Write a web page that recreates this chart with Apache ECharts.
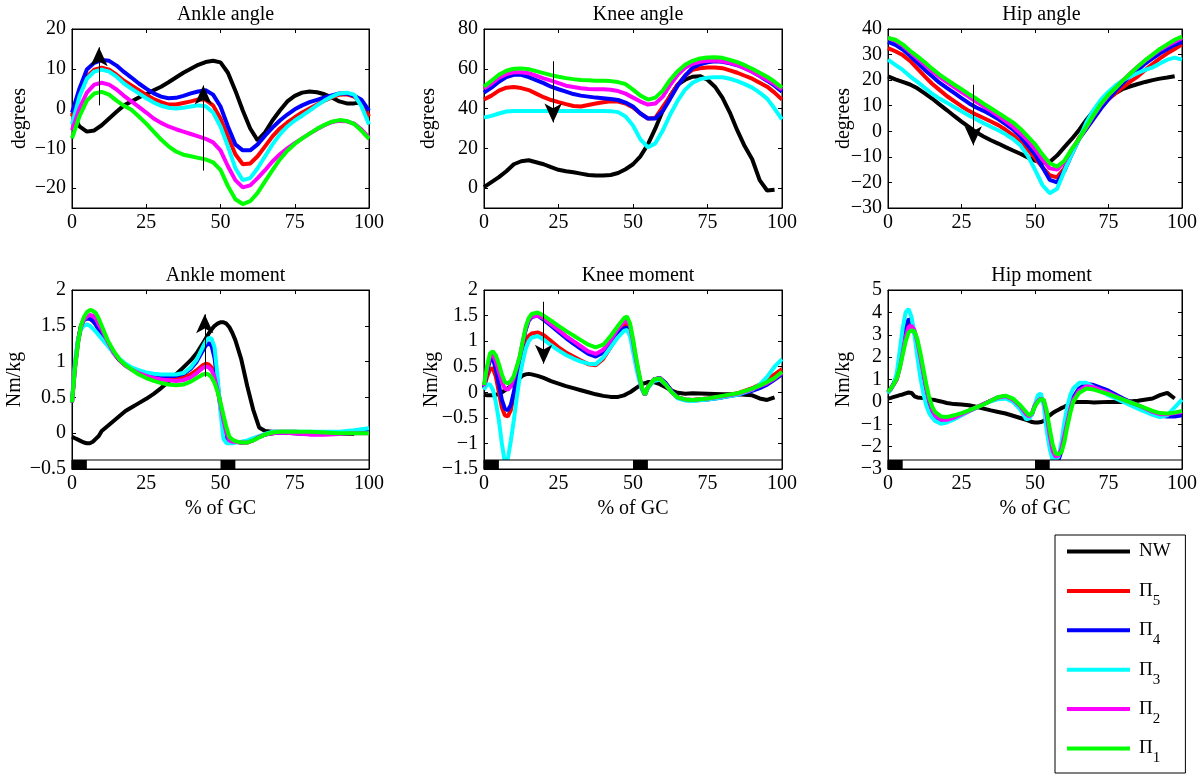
<!DOCTYPE html>
<html><head><meta charset="utf-8">
<script src="https://cdn.jsdelivr.net/npm/echarts@6/dist/echarts.min.js"></script>
<style>html,body{margin:0;padding:0;background:#fff}#c{width:1200px;height:776px}</style>
</head><body><div id="c"></div>
<script>
// ---------------- DATA ----------------
const seriesNames = ['NW', 'Π5', 'Π4', 'Π3', 'Π2', 'Π1'];
const xTicks = [0, 25, 50, 75, 100];

// gait-cycle sample points (% of GC)
const xAngle = [0,2.5,5,7.5,10,12.5,15,17.5,20,22.5,25,27.5,30,32.5,35,37.5,40,42.5,45,47.5,50,52.5,55,57.5,60,62.5,65,67.5,70,72.5,75,77.5,80,82.5,85,87.5,90,92.5,95,97.5,100];
const xAnkleMoment = [0,1,2,3,4,5,6,7,8,9,10,12,14,16,18,20,22.5,25,27.5,30,32.5,35,37.5,40,42,44,45,46,47,48,49,50,51,52,53,54,55,57,59,61,63,65,67.5,70,75,80,85,90,95,100];
const xKneeMoment = [0,1,2,3,4,5,6,7,8,9,10,11,12,13,14,15,16,18,20,22.5,25,27.5,30,32.5,35,37.5,40,42.5,45,47,48,49,50,51,52,53,54,55,57,59,61,63,65,67.5,70,75,80,85,90,92.5,95,97.5,100];
const xHipMoment = [0,1,2,3,4,5,6,7,8,9,10,11,12,13,14,15,16,18,20,22.5,25,27.5,30,32.5,35,37.5,40,42.5,45,47,48,49,50,51,52,53,54,55,56,57,58,59,60,61,62,63,65,67.5,70,75,80,85,90,92.5,95,97.5,100];

// Ankle angle (degrees)
const ankleAngleNW = [-1,-4.5,-5.8,-5.5,-4.2,-2.5,-0.8,0.8,1.8,2.8,3.6,4.6,5.5,6.6,7.8,9,10,11,11.7,12,11.6,9,4.5,-0.5,-5,-8,-6,-3,-0.5,1.8,3.2,4,4.3,4.1,3.6,2.8,1.8,1.3,1.3,1.6,null];
const ankleAngleP5 = [-2,4,8,9.8,10.3,9.8,8.5,7,5.8,4.6,3.4,2.4,1.6,1,1,1.4,1.8,2.3,2.2,0.8,-2.5,-7,-11.5,-14,-13.8,-12,-9.5,-7,-5,-3.5,-2.2,-1,0,1,2,2.8,3.5,3.6,3,1.5,-2];
const ankleAngleP4 = [-1,5,9.8,11.5,12.2,12,10.8,9.2,7.8,6.3,5,3.8,3,2.6,2.7,3.2,3.8,4.3,4.6,3.5,0.5,-4.5,-9,-10.5,-10.5,-9,-6.8,-4.8,-3,-1.5,-0.2,0.8,1.6,2.2,2.8,3.3,3.8,3.8,3.2,2.2,-0.5];
const ankleAngleP3 = [-4,3,7.5,9.3,9.8,9.3,8,6.3,5,3.8,2.6,1.5,0.7,0.2,0,0.2,0.5,0.8,0.6,-1,-4.5,-9.5,-15,-18,-17.5,-15,-12,-9,-6.5,-4.5,-3,-1.8,-0.5,0.8,2,3,3.8,4,3.5,0.5,-4];
const ankleAngleP2 = [-5.5,0,4,6,6.5,6,4.8,3.2,1.8,0.4,-1,-2.5,-3.6,-4.5,-5.2,-5.8,-6.4,-7,-7.6,-8.5,-10.5,-14.5,-18,-19.8,-19.3,-17.5,-15.5,-13.3,-11.5,-10,-8.7,-7.5,-6.3,-5.2,-4.2,-3.4,-3.1,-3.2,-3.8,-5.3,-7.3];
const ankleAngleP1 = [-7.5,-2,2,3.8,4.2,3.5,2,0.7,-0.3,-2,-3.8,-5.8,-7.8,-9.5,-10.8,-11.6,-12,-12.4,-12.8,-13.5,-15.4,-19.5,-22.8,-24,-23.3,-21.2,-18.3,-15.5,-12.8,-10.6,-8.9,-7.5,-6.3,-5.1,-4.1,-3.3,-2.9,-3.1,-3.9,-5.6,-7.6];

// Knee angle (degrees)
const kneeAngleNW = [0.5,3,5.5,8.5,12,13.5,14,13,12,10.5,9.2,8.5,8,7.3,6.6,6.3,6.3,6.6,7.6,9.5,12,16,22,30,39,46.5,52,54.5,56,56.3,54.5,51,45.5,38,29,21,14.5,4,-1.2,-0.8,null];
const kneeAngleP5 = [44.5,46.5,49,50.5,50.8,50.3,49.3,47.5,45.7,44.3,43.2,42.2,41.3,41,41.8,42.5,43.2,43.7,43.5,42.5,40.5,37.5,35,35.3,40.8,46.3,52,56.5,59.5,60.3,60.6,60.6,60.3,59.2,58,56.5,55,53,51,48,44.5];
const kneeAngleP4 = [48,50.5,53.5,55.8,57,57,55.8,54.3,52.8,51,49.7,48.5,47.3,46.5,46,45.5,45.2,44.8,44.3,43,41,37.5,35,35,38.8,45,51.5,56.5,60.5,62.3,63.3,63.8,63.5,62.8,61.8,60.3,58.5,56.3,54,51.5,48.5];
const kneeAngleP3 = [35.5,36.3,37.5,38.5,38.8,38.8,38.8,38.8,38.8,38.8,38.8,38.8,38.8,38.8,38.8,38.8,38.8,38.7,38.2,36,31.5,24.5,20.5,22.5,29,37,44,49.5,53,54.8,55.5,55.8,55.7,55,53.8,52.3,50.5,48,45,40,34.5];
const kneeAngleP2 = [50,52.5,55.5,57.3,58.2,58.3,57.8,56.5,55.2,54,52.8,51.5,50.8,50.2,49.8,49.7,49.7,49.5,48.8,47.5,45.5,43.5,42,42.5,46,52,57,60.5,62.5,63.5,64,64.2,63.8,63,61.8,60.3,58.5,56.5,54.5,52.3,49.5];
const kneeAngleP1 = [51,54,57,59,60,60.2,59.8,58.8,57.8,56.8,56,55.3,54.8,54.4,54.2,54,54,53.8,53.3,52.3,49.5,46.5,44.5,45.5,49,54.5,58.8,62,64,65.2,65.7,65.8,65.5,64.5,63.3,61.8,60,58,56,53.5,50.5];

// Hip angle (degrees)
const hipAngleNW = [21.5,20.3,19.3,18.3,16.8,14.8,12.8,10.5,8.3,6,3.8,1.7,-0.4,-2,-3.5,-4.8,-6.2,-7.5,-8.8,-10.2,-11.5,-12.3,-12,-9.5,-6.2,-3,0.5,4.5,8,10.8,13,15,16.6,17.6,18.5,19.3,20,20.6,21,21.5,null];
const hipAngleP5 = [32.5,31.3,29.8,27.5,24.5,21.5,18.6,16.2,13.8,11.8,9.8,8,6.5,5.2,3.8,2.4,0.6,-1.5,-4,-7,-10.5,-14,-17.2,-18,-14.5,-8,-2.5,1.5,6.5,9.8,12.5,15,17.3,19.5,21.5,24,26.3,28.5,30.5,32.2,34];
const hipAngleP4 = [35,33.8,32,29.5,26.8,24,21.5,19,17,15,13,11,9.3,8,6.5,4.8,2.8,0.8,-2,-5.5,-9,-14,-19,-20,-15.5,-9,-3,1,5,9,12.5,16,19,21.7,24,26.5,28.5,30.5,32.2,33.8,35];
const hipAngleP3 = [28,26,24,21.5,19.3,17,14.7,12.8,11.2,9.5,7.8,6.2,4.7,3.2,1.8,0.4,-1.2,-3,-5.5,-9.5,-15,-21,-24.2,-22.5,-15.5,-9,-3,3.5,8.5,12.5,15.5,18,20,21.5,22.8,24,25,26.5,28,28.8,28];
const hipAngleP2 = [36.5,35.5,33.5,31,28.5,26,23.5,21.3,19.2,17.3,15.3,13.5,11.5,9.8,8,6,4,1.8,-0.8,-3.5,-7,-11,-14.5,-15,-12,-7,-3,1.5,6.2,10.5,14,17,20,22.7,25.3,27.6,29.8,31.8,33.5,35,36.5];
const hipAngleP1 = [36.5,35.8,34,31.5,29.3,27,24.5,22.2,20.2,18.3,16.5,14.5,12.8,10.8,9,7.2,5.3,3.5,1,-2,-5,-9,-12.5,-13.8,-11.5,-7,-3,1.8,6.5,10.8,14.3,17,20,22.7,25.3,27.8,30,32.2,34,35.8,37];

// Ankle moment (Nm/kg)
const ankleMomentNW = [-0.05,-0.07,-0.09,-0.11,-0.13,-0.14,-0.14,-0.12,-0.08,-0.04,0.03,0.1,0.17,0.24,0.31,0.36,0.42,0.48,0.55,0.63,0.72,0.82,0.92,1.02,1.12,1.25,1.32,1.39,1.45,1.5,1.53,1.55,1.55,1.53,1.48,1.4,1.3,1.03,0.66,0.33,0.08,0.03,0.02,0.02,0.02,0.01,-0.01,-0.01,-0.01,null];
const ankleMomentP5 = [0.43,0.95,1.3,1.5,1.6,1.62,1.6,1.57,1.52,1.45,1.38,1.25,1.12,1.02,0.95,0.9,0.85,0.8,0.78,0.77,0.76,0.76,0.78,0.82,0.88,0.95,0.97,0.96,0.92,0.82,0.62,0.4,0.15,-0.05,-0.13,-0.13,-0.12,-0.13,-0.13,-0.1,-0.05,-0.02,0,0.01,0,-0.01,-0.01,0,0.01,0.02];
const ankleMomentP4 = [0.43,0.92,1.28,1.5,1.58,1.6,1.6,1.57,1.52,1.45,1.38,1.25,1.12,1.02,0.95,0.9,0.86,0.83,0.81,0.8,0.8,0.8,0.83,0.9,1,1.15,1.22,1.26,1.22,1.05,0.7,0.35,0.08,-0.08,-0.12,-0.12,-0.12,-0.13,-0.12,-0.09,-0.05,-0.02,0,0.01,0,-0.01,-0.01,0,0.02,0.03];
const ankleMomentP3 = [0.45,1,1.3,1.45,1.5,1.52,1.5,1.46,1.42,1.37,1.32,1.22,1.12,1.04,0.97,0.92,0.88,0.85,0.83,0.82,0.82,0.82,0.84,0.92,1.03,1.2,1.28,1.33,1.32,1.2,0.8,0.3,-0.08,-0.14,-0.14,-0.14,-0.13,-0.12,-0.1,-0.07,-0.04,-0.01,0.02,0.02,0.02,0.02,0.02,0.02,0.04,0.07];
const ankleMomentP2 = [0.43,0.9,1.25,1.48,1.58,1.63,1.65,1.64,1.6,1.52,1.45,1.28,1.13,1.02,0.94,0.89,0.84,0.8,0.77,0.75,0.74,0.73,0.74,0.78,0.84,0.91,0.93,0.92,0.88,0.78,0.6,0.4,0.18,0,-0.1,-0.12,-0.12,-0.13,-0.13,-0.1,-0.05,-0.02,0,0.01,0,-0.02,-0.02,-0.01,0,0];
const ankleMomentP1 = [0.43,0.9,1.25,1.5,1.62,1.69,1.72,1.71,1.68,1.6,1.5,1.3,1.15,1.03,0.95,0.89,0.82,0.77,0.73,0.7,0.68,0.67,0.68,0.72,0.77,0.82,0.83,0.82,0.78,0.7,0.58,0.43,0.25,0.08,-0.05,-0.09,-0.11,-0.13,-0.13,-0.1,-0.06,-0.02,0.01,0.02,0.02,0.02,0.01,0,0,0];

// Knee moment (Nm/kg)
const kneeMomentNW = [-0.05,-0.06,-0.06,-0.06,-0.05,-0.03,0,0.04,0.08,0.12,0.17,0.22,0.28,0.33,0.35,0.36,0.35,0.32,0.28,0.22,0.17,0.12,0.08,0.04,0,-0.04,-0.07,-0.09,-0.09,-0.06,-0.03,0,0.04,0.08,0.12,0.16,0.18,0.2,0.2,0.16,0.1,0.03,-0.01,-0.03,-0.02,-0.03,-0.04,-0.04,-0.06,-0.12,-0.15,-0.1,null];
const kneeMomentP5 = [0.08,0.3,0.45,0.47,0.3,0,-0.3,-0.45,-0.47,-0.35,-0.05,0.25,0.55,0.8,1,1.1,1.15,1.17,1.12,1,0.88,0.78,0.7,0.62,0.55,0.53,0.65,0.88,1.15,1.3,1.33,1.2,0.92,0.6,0.32,0.07,-0.05,0.1,0.25,0.28,0.17,0.02,-0.1,-0.14,-0.15,-0.12,-0.08,-0.02,0.08,0.15,0.25,0.35,0.45];
const kneeMomentP4 = [0.1,0.4,0.62,0.65,0.45,0.15,-0.15,-0.32,-0.35,-0.25,0,0.3,0.6,0.95,1.22,1.4,1.47,1.5,1.42,1.3,1.18,1.06,0.95,0.85,0.75,0.7,0.78,0.95,1.15,1.25,1.26,1.15,0.9,0.6,0.32,0.07,-0.05,0.1,0.25,0.28,0.18,0.02,-0.1,-0.15,-0.16,-0.14,-0.1,-0.05,0.03,0.08,0.15,0.25,0.35];
const kneeMomentP3 = [0.05,0.15,0.15,0.05,-0.2,-0.55,-1,-1.38,-1.3,-0.95,-0.55,-0.1,0.3,0.6,0.85,1,1.07,1.1,1.03,0.92,0.82,0.73,0.66,0.6,0.56,0.55,0.68,0.88,1.08,1.2,1.22,1.1,0.8,0.5,0.25,0.05,-0.05,0.08,0.22,0.25,0.15,0,-0.12,-0.16,-0.17,-0.14,-0.1,-0.05,0.05,0.15,0.3,0.5,0.65];
const kneeMomentP2 = [0.12,0.45,0.7,0.72,0.6,0.4,0.2,0.07,0.05,0.12,0.28,0.48,0.7,0.98,1.25,1.42,1.48,1.5,1.45,1.33,1.22,1.1,1,0.9,0.8,0.75,0.83,1.02,1.25,1.38,1.4,1.3,1,0.65,0.35,0.08,-0.05,0.1,0.25,0.27,0.15,0,-0.1,-0.14,-0.15,-0.12,-0.08,-0.03,0.06,0.12,0.18,0.27,0.38];
const kneeMomentP1 = [0.14,0.5,0.76,0.8,0.72,0.55,0.35,0.2,0.17,0.22,0.32,0.5,0.7,1,1.28,1.45,1.53,1.56,1.5,1.4,1.3,1.2,1.11,1.02,0.93,0.88,0.93,1.1,1.3,1.45,1.48,1.35,1.05,0.7,0.38,0.1,-0.05,0.1,0.25,0.27,0.15,0,-0.1,-0.14,-0.15,-0.12,-0.07,-0.02,0.07,0.13,0.2,0.28,0.4];

// Hip moment (Nm/kg)
const hipMomentNW = [0.15,0.18,0.22,0.26,0.3,0.33,0.38,0.42,0.4,0.25,0.2,0.18,0.17,0.15,0.12,0.1,0.08,0.02,-0.05,-0.1,-0.12,-0.15,-0.22,-0.3,-0.38,-0.45,-0.52,-0.62,-0.72,-0.8,-0.85,-0.9,-0.92,-0.92,-0.9,-0.85,-0.72,-0.6,-0.5,-0.42,-0.35,-0.28,-0.22,-0.15,-0.08,-0.02,0,0,-0.03,0,0,0.05,0.15,0.3,0.4,0.15,null];
const hipMomentP5 = [0.45,0.6,0.8,1.05,1.6,2.4,3.1,3.5,3.45,3.1,2.5,1.7,1,0.3,-0.2,-0.5,-0.7,-0.85,-0.85,-0.72,-0.56,-0.4,-0.25,-0.1,0.05,0.2,0.25,0.1,-0.22,-0.58,-0.68,-0.52,-0.15,0.08,0.18,0.02,-0.7,-1.6,-2.35,-2.6,-2.5,-2.15,-1.5,-0.85,-0.25,0.15,0.55,0.75,0.7,0.45,0.12,-0.15,-0.48,-0.58,-0.6,-0.6,-0.55];
const hipMomentP4 = [0.42,0.6,0.85,1.15,1.7,2.5,3.3,3.7,3.6,3.1,2.4,1.6,0.9,0.2,-0.3,-0.6,-0.78,-0.92,-0.88,-0.75,-0.58,-0.42,-0.26,-0.1,0.05,0.2,0.25,0.1,-0.25,-0.6,-0.7,-0.55,-0.15,0.1,0.2,0,-0.8,-1.8,-2.5,-2.7,-2.6,-2.2,-1.5,-0.8,-0.2,0.2,0.6,0.8,0.75,0.5,0.15,-0.15,-0.5,-0.62,-0.65,-0.65,-0.6];
const hipMomentP3 = [0.38,0.55,0.8,1.3,2.3,3.3,4,4.15,3.8,3,2,1.1,0.4,-0.15,-0.5,-0.7,-0.85,-0.98,-0.92,-0.78,-0.6,-0.42,-0.25,-0.1,0.02,0.12,0.15,0,-0.35,-0.78,-0.75,-0.55,-0.1,0.3,0.38,-0.2,-1.3,-2.1,-2.6,-2.6,-2.45,-1.8,-0.9,-0.2,0.3,0.6,0.85,0.85,0.65,0.3,0,-0.3,-0.58,-0.68,-0.6,-0.25,0.1];
const hipMomentP2 = [0.45,0.58,0.78,1,1.5,2.2,2.9,3.35,3.4,3.2,2.7,2,1.3,0.6,0.05,-0.35,-0.6,-0.8,-0.8,-0.7,-0.55,-0.4,-0.25,-0.1,0.05,0.2,0.25,0.1,-0.2,-0.55,-0.65,-0.5,-0.15,0.05,0.15,0.05,-0.6,-1.5,-2.2,-2.45,-2.4,-2.1,-1.5,-0.9,-0.3,0.1,0.5,0.7,0.65,0.4,0.1,-0.15,-0.45,-0.55,-0.55,-0.5,-0.45];
const hipMomentP1 = [0.45,0.6,0.8,1.05,1.5,2.1,2.7,3.1,3.2,3.15,2.8,2.2,1.5,0.8,0.2,-0.2,-0.45,-0.65,-0.68,-0.6,-0.5,-0.38,-0.25,-0.12,0.05,0.22,0.28,0.15,-0.15,-0.45,-0.6,-0.5,-0.2,0,0.12,0.1,-0.4,-1.2,-1.9,-2.3,-2.35,-2.25,-1.8,-1.1,-0.5,0,0.4,0.6,0.55,0.35,0.1,-0.15,-0.4,-0.5,-0.52,-0.48,-0.4];

// Axis ranges and tick labels
const ankleAngleRange = [-25, 20], ankleAngleTicks = [-20, -10, 0, 10, 20];
const kneeAngleRange = [-10, 80], kneeAngleTicks = [0, 20, 40, 60, 80];
const hipAngleRange = [-30, 40], hipAngleTicks = [-30, -20, -10, 0, 10, 20, 30, 40];
const ankleMomentRange = [-0.5, 2], ankleMomentTicks = [-0.5, 0, 0.5, 1, 1.5, 2];
const kneeMomentRange = [-1.5, 2], kneeMomentTicks = [-1.5, -1, -0.5, 0, 0.5, 1, 1.5, 2];
const hipMomentRange = [-3, 5], hipMomentTicks = [-3, -2, -1, 0, 1, 2, 3, 4, 5];

// Arrow annotations: [x, from y, to y]
const ankleAngleArrows = [[9.1, 0.8, 15.4], [44.2, -15.6, 5.8]];
const kneeAngleArrows = [[23.2, 63.8, 33]];
const hipAngleArrows = [[29, 18.2, -5.5]];
const ankleMomentArrows = [[44.7, 0.79, 1.66]];
const kneeMomentArrows = [[20, 1.77, 0.56]];
const hipMomentArrows = [];

// Double-support phases (% of GC) shown in the bar under the moment plots
const supportPhases = [[0, 5], [50, 55]];

// ---------------- LAYOUT / STYLE ----------------
const FONT = 'Liberation Serif';
const colors = ['#000000', '#ff0000', '#0000ff', '#00ffff', '#ff00ff', '#00ff00'];
const stripFrac = 9 / 179;

const panels = [
  { title: 'Ankle angle', x: xAngle, ys: [ankleAngleNW, ankleAngleP5, ankleAngleP4, ankleAngleP3, ankleAngleP2, ankleAngleP1], range: ankleAngleRange, ticks: ankleAngleTicks, yName: 'degrees', arrows: ankleAngleArrows, strip: false, grid: { left: 72, top: 29, width: 297, height: 179 }, nameGap: 42 },
  { title: 'Knee angle', x: xAngle, ys: [kneeAngleNW, kneeAngleP5, kneeAngleP4, kneeAngleP3, kneeAngleP2, kneeAngleP1], range: kneeAngleRange, ticks: kneeAngleTicks, yName: 'degrees', arrows: kneeAngleArrows, strip: false, grid: { left: 484, top: 29, width: 298, height: 179 }, nameGap: 45 },
  { title: 'Hip angle', x: xAngle, ys: [hipAngleNW, hipAngleP5, hipAngleP4, hipAngleP3, hipAngleP2, hipAngleP1], range: hipAngleRange, ticks: hipAngleTicks, yName: 'degrees', arrows: hipAngleArrows, strip: false, grid: { left: 888, top: 29, width: 297, height: 179 }, nameGap: 34 },
  { title: 'Ankle moment', x: xAnkleMoment, ys: [ankleMomentNW, ankleMomentP5, ankleMomentP4, ankleMomentP3, ankleMomentP2, ankleMomentP1], range: ankleMomentRange, ticks: ankleMomentTicks, yName: 'Nm/kg', arrows: ankleMomentArrows, strip: true, grid: { left: 72, top: 290, width: 297, height: 179 }, nameGap: 47 },
  { title: 'Knee moment', x: xKneeMoment, ys: [kneeMomentNW, kneeMomentP5, kneeMomentP4, kneeMomentP3, kneeMomentP2, kneeMomentP1], range: kneeMomentRange, ticks: kneeMomentTicks, yName: 'Nm/kg', arrows: kneeMomentArrows, strip: true, grid: { left: 484, top: 290, width: 298, height: 179 }, nameGap: 42 },
  { title: 'Hip moment', x: xHipMoment, ys: [hipMomentNW, hipMomentP5, hipMomentP4, hipMomentP3, hipMomentP2, hipMomentP1], range: hipMomentRange, ticks: hipMomentTicks, yName: 'Nm/kg', arrows: hipMomentArrows, strip: true, grid: { left: 888, top: 290, width: 297, height: 179 }, nameGap: 34 }
];

const fmt = v => (v < 0 ? '\u2212' + Math.abs(v) : String(v));
const txt = { fontFamily: FONT, fontSize: 20, color: '#000' };
const tickStyle = { show: true, inside: true, length: 4, lineStyle: { color: '#000' } };
const lineStyleAx = { show: true, onZero: false, lineStyle: { color: '#000', width: 1 } };

const grids = [], xAxes = [], yAxes = [], xAxesTop = [], yAxesRight = [], series = [], titles = [];
panels.forEach((p, i) => {
  grids.push(Object.assign({ show: true, borderColor: '#000', borderWidth: 1, backgroundColor: '#fff' }, p.grid));
  titles.push({ text: p.title, left: p.grid.left + p.grid.width / 2, top: p.grid.top - 29, textAlign: 'center',
    textStyle: { fontFamily: FONT, fontSize: 20, fontWeight: 'normal', color: '#000' } });
  xAxes.push({ type: 'value', gridIndex: i, min: 0, max: 100, interval: 25, position: 'bottom',
    name: p.strip ? '% of GC' : '', nameLocation: 'middle', nameGap: 30, nameTextStyle: txt, nameMoveOverlap: false,
    axisLine: lineStyleAx, axisTick: tickStyle,
    axisLabel: { ...txt, margin: 5, customValues: xTicks },
    splitLine: { show: false } });
  yAxes.push({ type: 'value', gridIndex: i, min: p.range[0], max: p.range[1], position: 'left',
    name: p.yName, nameLocation: 'middle', nameGap: p.nameGap, nameTextStyle: txt, nameMoveOverlap: false,
    axisLine: lineStyleAx, axisTick: { ...tickStyle, customValues: p.ticks },
    axisLabel: { ...txt, margin: 6, customValues: p.ticks, formatter: fmt },
    splitLine: { show: false } });
  // mirrored ticks on top and right edges (box style)
  xAxesTop.push({ type: 'value', gridIndex: i, min: 0, max: 100, interval: 25, position: 'top',
    axisLine: lineStyleAx, axisTick: tickStyle, axisLabel: { show: false }, splitLine: { show: false } });
  yAxesRight.push({ type: 'value', gridIndex: i, min: p.range[0], max: p.range[1], position: 'right',
    axisLine: lineStyleAx, axisTick: { ...tickStyle, customValues: p.ticks }, axisLabel: { show: false, customValues: p.ticks }, splitLine: { show: false } });
  p.ys.forEach((ys, k) => {
    series.push({ type: 'line', name: seriesNames[k], xAxisIndex: i, yAxisIndex: i,
      data: p.x.map((xv, j) => [xv, ys[j]]), showSymbol: false, symbol: 'none', connectNulls: false,
      color: colors[k], lineStyle: { color: colors[k], width: 4 }, z: 2 + k * 0.01, silent: true });
  });
  const extra = { type: 'line', name: 'annot' + i, xAxisIndex: i, yAxisIndex: i, data: [], silent: true, z: 10 };
  if (p.arrows.length) {
    extra.markLine = { silent: true, symbol: ['none', 'arrow'], symbolSize: [13, 19], z: 10,
      lineStyle: { color: '#000', width: 1, type: 'solid' }, label: { show: false },
      itemStyle: { color: '#000' },
      data: p.arrows.map(a => [{ coord: [a[0], a[1]] }, { coord: [a[0], a[2]] }]) };
  }
  if (p.strip) {
    const top = p.range[0] + (p.range[1] - p.range[0]) * stripFrac;
    const areas = [[{ coord: [0, p.range[0]], itemStyle: { color: '#fff', borderColor: '#000', borderWidth: 1 } }, { coord: [100, top] }]];
    supportPhases.forEach(s => areas.push([{ coord: [s[0], p.range[0]], itemStyle: { color: '#000' } }, { coord: [s[1], top] }]));
    extra.markArea = { silent: true, z: 9, label: { show: false }, data: areas };
  }
  series.push(extra);
});

const chart = echarts.init(document.getElementById('c'), null, { renderer: 'canvas' });
chart.setOption({
  animation: false,
  backgroundColor: '#fff',
  title: titles,
  grid: grids,
  xAxis: xAxes.concat(xAxesTop),
  yAxis: yAxes.concat(yAxesRight),
  legend: {
    data: seriesNames, orient: 'vertical', left: 1055, top: 535, height: 300,
    itemWidth: 63, itemHeight: 4, itemGap: 12.4, icon: 'rect',
    borderColor: '#000', borderWidth: 1, borderRadius: 0, padding: [7, 11, 7, 12],
    backgroundColor: '#fff', selectedMode: false,
    formatter: n => n === 'NW' ? '{n|NW}{s| }' : '{n|Π}{s|' + n.slice(1) + '}',
    textStyle: { rich: {
      n: { fontFamily: FONT, fontSize: 19, color: '#000', lineHeight: 34, padding: [0, 0, 0, 4] },
      s: { fontFamily: FONT, fontSize: 15, color: '#000', padding: [20, 0, 0, 0] }
    } }
  },
  series: series
});
</script></body></html>
